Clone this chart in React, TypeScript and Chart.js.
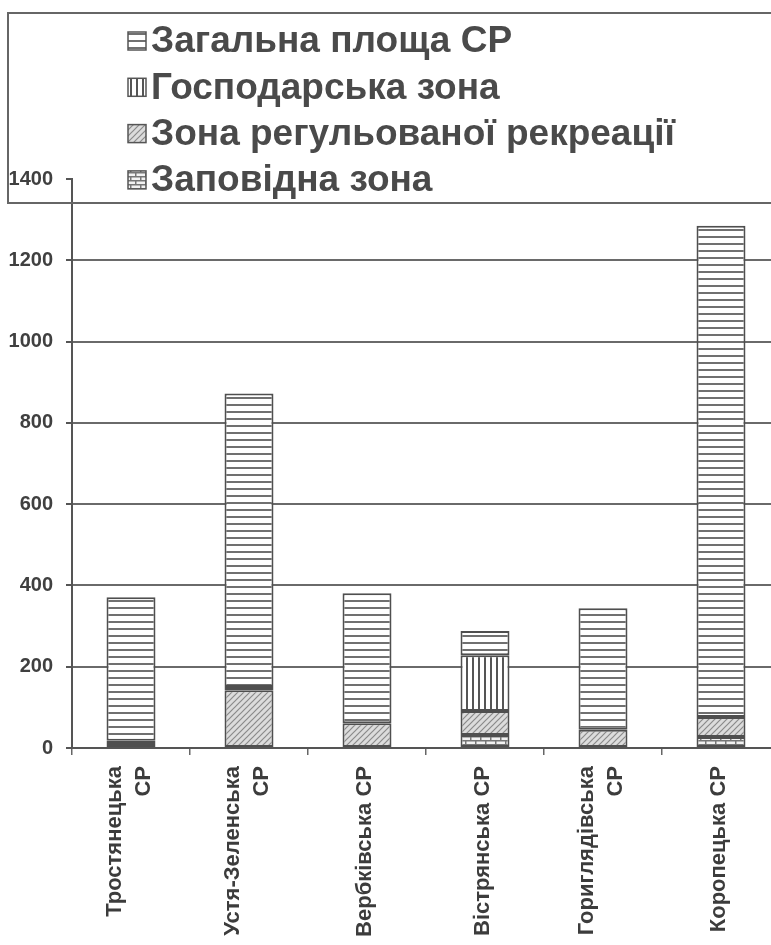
import React, { useEffect, useRef } from "react";
import { Chart, registerables } from "chart.js";

Chart.register(...registerables);

// Categories (nature reserves)
const categories: string[][] = [
  ["Тростянецька", "СР"],
  ["Устя-Зеленська", "СР"],
  ["Вербківська СР"],
  ["Вістрянська СР"],
  ["Гориглядівська", "СР"],
  ["Коропецька СР"],
];

// Series values
const totalArea = [371, 872, 381, 288, 344, 1285]; // Загальна площа СР (total bar height)
const economicZone = [0, 8, 0, 137, 0, 0]; // Господарська зона
const recreationZone = [8, 142, 61, 59, 45, 49]; // Зона регульованої рекреації
const reserveZone = [10, 0, 0, 32, 0, 27]; // Заповідна зона

const yTicks = [0, 200, 400, 600, 800, 1000, 1200, 1400];

const seriesLabels = {
  total: "Загальна площа СР",
  economic: "Господарська зона",
  recreation: "Зона регульованої рекреації",
  reserve: "Заповідна зона",
};

const FONT = '"Liberation Sans", Arial, sans-serif';

function makePattern(kind: string): CanvasPattern | string {
  const c = document.createElement("canvas");
  const g = c.getContext("2d")!;
  if (kind === "h") {
    c.width = 8; c.height = 7;
    g.fillStyle = "#ffffff"; g.fillRect(0, 0, 8, 7);
    g.fillStyle = "#707070"; g.fillRect(0, 5, 8, 2);
  } else if (kind === "v") {
    c.width = 6; c.height = 6;
    g.fillStyle = "#ffffff"; g.fillRect(0, 0, 6, 6);
    g.fillStyle = "#555555"; g.fillRect(4, 0, 2, 6);
  } else if (kind === "d") {
    c.width = 6; c.height = 6;
    g.fillStyle = "#dcdcdc"; g.fillRect(0, 0, 6, 6);
    g.strokeStyle = "#8a8a8a"; g.lineWidth = 1.2;
    g.beginPath();
    g.moveTo(0, 6); g.lineTo(6, 0);
    g.moveTo(-3, 3); g.lineTo(3, -3);
    g.moveTo(3, 9); g.lineTo(9, 3);
    g.stroke();
  } else {
    c.width = 10; c.height = 8;
    g.fillStyle = "#f2f2f2"; g.fillRect(0, 0, 10, 8);
    g.fillStyle = "#777777";
    g.fillRect(0, 0, 10, 1.5);
    g.fillRect(0, 4, 10, 1.5);
    g.fillRect(0, 0, 1.5, 4);
    g.fillRect(5, 4, 1.5, 4);
  }
  return g.createPattern(c, "repeat") || "#ccc";
}

const nz = (arr: number[]) => arr.map((v) => (v === 0 ? null : v));

const legendBoxPlugin = {
  id: "legendBox",
  afterDraw(chart: any) {
    const ctx = chart.ctx as CanvasRenderingContext2D;
    ctx.save();
    ctx.strokeStyle = "#666666";
    ctx.lineWidth = 2;
    ctx.beginPath();
    ctx.moveTo(830, 13);
    ctx.lineTo(8, 13);
    ctx.lineTo(8, 203);
    ctx.lineTo(830, 203);
    ctx.stroke();
    const ds = chart.data.datasets.slice().reverse();
    ds.forEach((d: any, i: number) => {
      const y = 41 + i * 46.3;
      ctx.fillStyle = d.backgroundColor;
      ctx.fillRect(128, y - 9, 18, 18);
      ctx.strokeStyle = "#555555";
      ctx.lineWidth = 1.5;
      ctx.strokeRect(128, y - 9, 18, 18);
      ctx.fillStyle = "#4a4a4a";
      ctx.font = `bold 37px ${FONT}`;
      ctx.textBaseline = "middle";
      ctx.textAlign = "left";
      ctx.fillText(d.label, 151, y + 1);
    });
    ctx.restore();
  },
};

const xLabelsPlugin = {
  id: "xLabels",
  afterDraw(chart: any) {
    const ctx = chart.ctx as CanvasRenderingContext2D;
    const xs = chart.scales.x;
    const top = chart.chartArea.bottom + 18;
    ctx.save();
    ctx.fillStyle = "#3c3c3c";
    ctx.font = `bold 22px ${FONT}`;
    ctx.textAlign = "right";
    ctx.textBaseline = "middle";
    (chart.data.labels as string[][]).forEach((lines, i) => {
      const cx = xs.getPixelForTick(i) - 2;
      const n = lines.length;
      lines.forEach((line, j) => {
        const x = cx + (j - (n - 1) / 2) * 29;
        ctx.save();
        ctx.translate(x, top);
        ctx.rotate(-Math.PI / 2);
        ctx.fillText(line, 0, 0);
        ctx.restore();
      });
    });
    ctx.restore();
  },
};

export default function App() {
  const ref = useRef<HTMLCanvasElement>(null);

  useEffect(() => {
    if (!ref.current) return;
    const pH = makePattern("h");
    const pV = makePattern("v");
    const pD = makePattern("d");
    const pB = makePattern("b");

    const remainder = totalArea.map(
      (t, i) => t - economicZone[i] - recreationZone[i] - reserveZone[i]
    );

    const common = {
      borderColor: "#4f4f4f",
      borderWidth: 2,
      borderSkipped: false,
      categoryPercentage: 1,
      barPercentage: 0.415,
    };

    const chart = new Chart(ref.current, {
      type: "bar",
      data: {
        labels: categories,
        datasets: [
          { label: seriesLabels.reserve, data: nz(reserveZone), backgroundColor: pB, ...common },
          { label: seriesLabels.recreation, data: nz(recreationZone), backgroundColor: pD, ...common },
          { label: seriesLabels.economic, data: nz(economicZone), backgroundColor: pV, ...common },
          { label: seriesLabels.total, data: remainder, backgroundColor: pH, ...common },
        ],
      },
      options: {
        animation: false,
        responsive: false,
        devicePixelRatio: 1,
        layout: { padding: { top: 179, left: 0, right: 20, bottom: 0 } },
        plugins: {
          legend: { display: false },
          tooltip: { enabled: false },
        },
        scales: {
          x: {
            stacked: true,
            afterFit: (s: any) => { s.height = 197; },
            grid: {
              display: true,
              drawOnChartArea: false,
              drawTicks: true,
              tickLength: 7,
              offset: true,
              color: "#666666",
              lineWidth: 1.5,
            },
            border: { display: true, color: "#555555", width: 2 },
            ticks: { display: false, autoSkip: false },
          },
          y: {
            stacked: true,
            min: 0,
            max: 1400,
            afterFit: (s: any) => { s.width = 72; },
            afterBuildTicks: (s: any) => { s.ticks = yTicks.map((v) => ({ value: v })); },
            grid: {
              color: (c: any) => (c.tick && c.tick.value === 1400 ? "rgba(0,0,0,0)" : "#6a6a6a"),
              tickColor: "#555555",
              lineWidth: 2,
              drawTicks: true,
              tickLength: 6,
            },
            border: { display: true, color: "#555555", width: 2 },
            ticks: {
              padding: 13,
              color: "#404040",
              font: { family: FONT, size: 20, weight: "bold" },
              callback: (v: any) => String(v),
            },
          },
        },
      },
      plugins: [legendBoxPlugin, xLabelsPlugin],
    });
    return () => chart.destroy();
  }, []);

  return (
    <div
      style={{
        position: "fixed",
        left: 0,
        top: 0,
        width: 771,
        height: 945,
        overflow: "hidden",
        background: "#ffffff",
      }}
    >
      <canvas ref={ref} width={800} height={945} style={{ display: "block" }} />
    </div>
  );
}
